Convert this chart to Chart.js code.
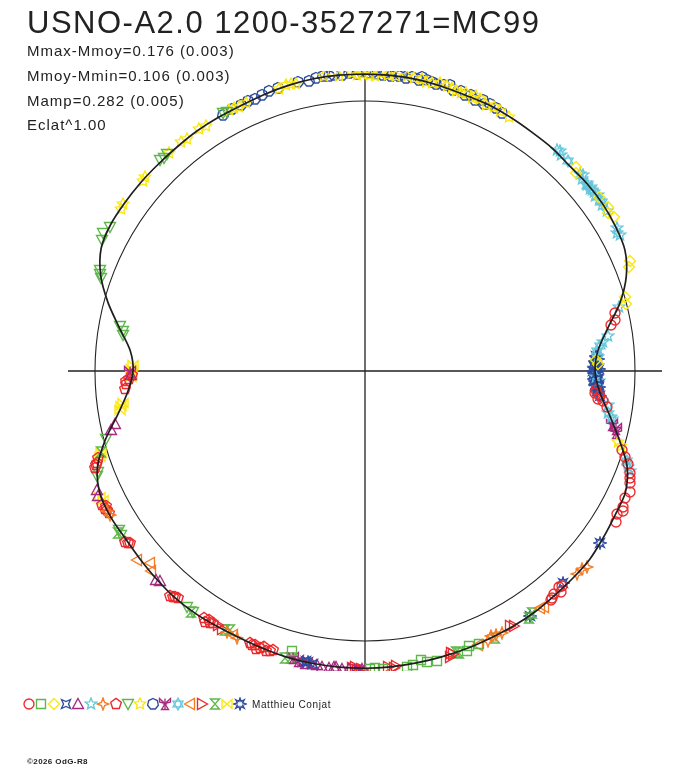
<!DOCTYPE html>
<html><head><meta charset="utf-8">
<script src="https://cdn.jsdelivr.net/npm/chart.js@4.4.1/dist/chart.umd.min.js"></script>
<style>
html,body{margin:0;padding:0;background:#fff;width:688px;height:768px;overflow:hidden;font-family:"Liberation Sans",Arial,sans-serif;color:#222}
#wrap{position:relative;width:688px;height:768px}
#c{position:absolute;left:0;top:0}
.t{position:absolute;white-space:nowrap;line-height:1}
</style></head><body>
<div id="wrap">
<canvas id="c" width="688" height="768"></canvas>
<div class="t" style="left:27px;top:7px;font-size:31px;letter-spacing:1.5px">USNO-A2.0 1200-3527271=MC99</div>
<div class="t" style="left:27px;top:43px;font-size:15px;letter-spacing:1px">Mmax-Mmoy=0.176 (0.003)</div>
<div class="t" style="left:27px;top:68px;font-size:15px;letter-spacing:1px">Mmoy-Mmin=0.106 (0.003)</div>
<div class="t" style="left:27px;top:93px;font-size:15px;letter-spacing:1px">Mamp=0.282 (0.005)</div>
<div class="t" style="left:27px;top:117px;font-size:15px;letter-spacing:1px">Eclat^1.00</div>
<div class="t" style="left:252px;top:700px;font-size:10px;letter-spacing:0.6px">Matthieu Conjat</div>
<div class="t" style="left:27px;top:758px;font-size:8px;letter-spacing:0.4px;font-weight:bold">©2026 OdG-R8</div>
</div>
<script>
// Phase in degrees (phase x 360, clockwise from top), radius with mean level = 100
const curvePhase = [0,5,10,15,20,25,30,35,40,45,50,55,60,65,70,75,80,85,90,95,100,105,110,115,120,125,130,135,140,145,150,155,160,165,170,175,180,185,190,195,200,205,210,215,220,225,230,235,240,245,250,255,260,265,270,275,280,285,290,295,300,305,310,315,320,325,330,335,340,345,350,355,360];
const curveRadius = [110,109.9,109.7,109.2,108.7,108.7,108.3,107.9,107.8,107.3,107.6,107.6,107.1,106.2,103,97.8,91.3,86.6,85.2,87.2,91.8,97.4,103.3,106.4,106.9,107.7,108.6,108.7,108.8,109.2,109.3,109.3,109.5,109.6,109.8,110,110.1,110.1,110,109.9,109.5,109.2,109.3,109.6,109.6,109.1,108.6,108.3,108.6,108.2,105.5,99.7,93,88.2,85.9,87.3,92.4,98.6,104.2,107.8,108.7,108.6,108.5,108.3,108.3,108.5,108.5,108.5,109,109.5,109.9,110,110];
const meanRadius = 100;

const redCircles = [[77,95],[78.5,94.5],[79.5,92.8],[94.7,86],[95.5,85.7],[96,87.5],[96.8,86.9],[97.3,88.8],[98.5,90.5],[107,99.5],[108.2,101.4],[109.5,103.5],[111,105],[112,106],[113,106.6],[114.5,107.8],[116,107.2],[117.7,108],[118.5,108.6],[119.5,107.4],[121,108.3],[137.5,108.2],[138,107.6],[138.5,109.5],[139.8,108.3],[140.5,108.9],[141,109.3]];
const greenSquares = [[157.4,109.5],[159.4,109],[160,110.2],[166,110.6],[168,110.1],[169,108.9],[170.8,110.2],[172,110.7],[176.5,110.5],[178,109.9],[179,110.5],[194.7,107.2]];
const yellowDiamonds = [[46,108.6],[46.8,107.3],[53.4,108],[56,108.6],[57,107.2],[58.3,108.3],[67.5,106.3],[68.5,105.2],[74,100.1],[75.5,99.8],[87.3,85.6],[88.2,86.4]];
const blueConcaveStars = [[89,85.1],[90.5,85.9],[92,86.4],[93.5,86.9],[190,110.3],[191.5,109.6]];
const purpleTriangles = [[258,94.5],[257,96.5],[246.1,108.7],[245,109.2],[225.1,109.5],[224.3,108.8],[191.3,110.6],[190.3,110.2],[189.3,110.4],[188.3,110.8],[187,110.7],[186,110.1],[185.5,110.2],[184.5,110.6],[183,110.5],[180.5,110.3],[269,86.6]];
const cyanStars = [[40.9,108.4],[41.5,108.9],[42.3,108.1],[47.5,108],[48,108.4],[48.5,107.4],[49.7,107.9],[50,107.1],[50.8,108],[51,107.2],[51.5,107.5],[52,107.7],[52.8,106.9],[53,108.1],[53.8,107.5],[55,107.1],[56.5,107.4],[60.5,107.3],[61.3,106.3],[62,106.9],[75.8,97.2],[81.8,90.8],[83,88.7],[86.5,86.3],[91.5,85.4],[92.5,86.8],[98,90.7],[99.9,91.5],[100.5,92.8],[110,103.6],[110.8,104.8]];
const orangeStars = [[131.4,109.5],[132.5,108.8],[133.7,108.6],[152.5,109.5],[153.5,109.1],[154.5,108.7],[155.5,109.7],[240.6,108.4],[241.5,108.9],[207.8,109.2],[205.6,109.6]];
const redPentagons = [[251,105],[250.8,105.4],[250.2,106.2],[252,104],[241,108.3],[241.7,108.6],[242,108.9],[242.5,108.1],[243,109.3],[233.7,107.9],[234,108.4],[234.5,109.2],[220,109.3],[220.3,109.7],[219.5,108.9],[221,110.3],[211,109.1],[211.6,109.7],[212,108.9],[212.5,110.3],[213.1,109.3],[203,109.3],[202.4,109.8],[201.8,109.3],[201.5,110.5],[200.8,109.9],[200.2,108.8],[199.4,110],[198.8,109.4],[198.2,108.8],[266.9,88.5],[265.8,89.3],[267.5,88.6],[268,87.4],[269,86.3]];
const greenDownTriangles = [[331.2,108.9],[332,108.5],[315.8,109],[316.6,108.4],[317.5,108.8],[299.5,108.5],[297.8,109.5],[296.5,108.7],[290.9,105],[290.2,104.4],[289.5,103.6],[280.3,92.2],[279.4,91],[278.5,90.5],[255.3,99],[249.2,105.8],[248.5,106.6],[237.2,108.5],[236,108.8],[217,109.3],[215.5,109.7]];
const yellowStars = [[303.5,108.5],[304.5,108.9],[310.5,108.2],[311.5,108.7],[318,108.4],[321.2,108.6],[322.5,108.2],[325.5,108.8],[327,108.3],[332.5,108.9],[333.5,109],[334.5,108.5],[336,108.7],[343,109.4],[344.5,109.8],[345.5,109.8],[346.5,109.3],[352,110.3],[355,109.8],[357.5,110.3],[358.5,109.6],[359.5,110],[1,109.8],[2,109.5],[3,110.4],[4.5,110.1],[6,109.8],[8,110.5],[9.5,110.2],[11,110],[12,109.5],[13,109.5],[14.5,110.3],[16,110],[17,109.6],[18,109.1],[19,108.9],[20,109.4],[21.5,108.5],[22,109.7],[23,109.3],[24.5,108.4],[26,108.9],[27.5,108.4],[29.5,108.1],[105.6,97.4],[106.3,98.6]];
const blueOctagons = [[331,108.6],[333,108.9],[335,108.5],[336.5,109],[338,108.8],[339.5,109.3],[341,109.5],[343,109.6],[347,109.8],[349,109.4],[350.5,110.1],[352,110.5],[353,109.9],[354,110.4],[355.5,110],[357,110.6],[358.5,110.2],[359.5,110.7],[0.5,110.5],[1.5,110.7],[2,110],[3.5,109.9],[4,110.8],[5,109.6],[6.5,110.1],[7,110.6],[8,109.5],[9,110.2],[10.5,109.6],[11,110.8],[12,110.3],[13,109.8],[14,109.4],[15.5,109.9],[16.5,110.4],[17.5,109],[19,109.7],[20,108.8],[21,109.3],[22,108.4],[23.5,109.6],[24,108.1],[25,109.2],[26.5,108.7],[28,108.3]];
const purpleTridents = [[102.3,93.8],[103,95.3],[103.8,95.9],[193,110.1],[194,109.5],[181,110.8],[269.8,86.9]];
const cyanHexagrams = [[44,108],[50.3,107],[54.5,107.6],[84,87.6],[85,86.2],[109,102.6],[101.2,93.5]];
const orangeLeftTriangles = [[143.5,109.2],[142.8,109.9],[157.5,109.8],[230.4,109.8],[228.2,106.8],[227,108.5],[206.5,109.3],[201,109.6]];
const redRightTriangles = [[149.7,109.5],[150.5,108.7],[162.8,109.7],[163,109.3],[163.5,110.3],[174,109.9],[174.5,110.5],[175.5,109.8],[180.3,110.9],[180.8,110.2],[181.2,111.2],[181.6,110.7],[182,109.8],[182.5,110.2],[209,109.4],[210,108.8]];
const greenHourglasses = [[145.5,108.9],[146.5,109.8],[154,110],[161.5,110.3],[162,109.3],[194.4,109.8],[195.5,110.5],[207.5,108.2],[208.3,109],[215.8,109.9],[236.8,109.4],[253,102.3]];
const yellowBowties = [[261,91.9],[261.8,91.2],[262.5,90.4],[252.1,103.2],[252.8,102.5],[243.8,108],[244.5,108.6],[268.5,86.6],[269.5,86.2],[270.5,86.6],[271.5,86]];
const blueEightStars = [[86.2,85.9],[87,86.3],[87.5,85.3],[88.5,85.8],[89,84.8],[89.5,86.6],[90,84.6],[90.5,84.9],[91,86],[91.5,85.7],[92,84.9],[92.5,85.1],[93,86.1],[93.5,85.2],[94,87],[94.5,86.2],[95,86.4],[96,87.6],[126.3,107.9],[137,107.6],[146,109.6],[191,109.7],[192,110.2]];

const RED='#ec2a2e', GREEN='#5db749', YELLOW='#fbe70c', BLUE='#2f4d9f', PURPLE='#a62a7e', CYAN='#67c7dc', ORANGE='#f57c27';

const seriesDefs = [
  {data:redCircles, color:RED, shape:'circle'},
  {data:greenSquares, color:GREEN, shape:'square'},
  {data:yellowDiamonds, color:YELLOW, shape:'diamond'},
  {data:blueConcaveStars, color:BLUE, shape:'concave'},
  {data:purpleTriangles, color:PURPLE, shape:'triUp'},
  {data:cyanStars, color:CYAN, shape:'star5'},
  {data:orangeStars, color:ORANGE, shape:'star4'},
  {data:redPentagons, color:RED, shape:'pentagon'},
  {data:greenDownTriangles, color:GREEN, shape:'triDown'},
  {data:yellowStars, color:YELLOW, shape:'star5b'},
  {data:blueOctagons, color:BLUE, shape:'heptagon'},
  {data:purpleTridents, color:PURPLE, shape:'trident'},
  {data:cyanHexagrams, color:CYAN, shape:'hexagram'},
  {data:orangeLeftTriangles, color:ORANGE, shape:'triLeft'},
  {data:redRightTriangles, color:RED, shape:'triRight'},
  {data:greenHourglasses, color:GREEN, shape:'hourglass'},
  {data:yellowBowties, color:YELLOW, shape:'bowtie'},
  {data:blueEightStars, color:BLUE, shape:'star8'}
];

function starPts(n, ro, ri, start){
  const p=[];
  for(let i=0;i<2*n;i++){const a=start+i*Math.PI/n;const r=i%2?ri:ro;p.push([r*Math.cos(a),r*Math.sin(a)]);}
  return p;
}
function polyPts(n, r, start){
  const p=[];
  for(let i=0;i<n;i++){const a=start+i*2*Math.PI/n;p.push([r*Math.cos(a),r*Math.sin(a)]);}
  return p;
}
const UP=-Math.PI/2;
const shapePolys = {
  square: [[[-4.5,-4.5],[4.5,-4.5],[4.5,4.5],[-4.5,4.5]]],
  diamond: [[[0,-5.5],[5.5,0],[0,5.5],[-5.5,0]]],
  concave: [[[-4.5,-4.5],[0,-2.5],[4.5,-4.5],[2.5,0],[4.5,4.5],[0,2.5],[-4.5,4.5],[-2.5,0]]],
  triUp: [[[0,-5.5],[5.5,4.5],[-5.5,4.5]]],
  triDown: [[[-5.5,-4.5],[5.5,-4.5],[0,5.5]]],
  triLeft: [[[-5.5,0],[4.5,-5.5],[4.5,5.5]]],
  triRight: [[[5.5,0],[-4.5,-5.5],[-4.5,5.5]]],
  star5: [starPts(5,6,2.6,UP)],
  star5b: [starPts(5,6,3,UP)],
  star4: [[[0,-6],[1.6,-1.6],[6,0],[1.6,1.6],[0,6],[-1.6,1.6],[-6,0],[-1.6,-1.6]]],
  pentagon: [polyPts(5,5.6,UP)],
  heptagon: [polyPts(7,5.5,UP)],
  hexagram: [polyPts(3,5.8,UP), polyPts(3,5.8,-UP)],
  trident: [[[0,-0.5],[-5.5,-5.5],[-5.5,-2]],[[0,-0.5],[5.5,-5.5],[5.5,-2]],[[0,0],[-3.5,5.5],[3.5,5.5]]],
  hourglass: [[[-4.5,-5],[4.5,-5],[-4.5,5],[4.5,5]]],
  bowtie: [[[-5,-4.5],[5,4.5],[5,-4.5],[-5,4.5]]],
  star8: [starPts(8,6,2.8,UP)]
};
function makeMarker(shape, color){
  const c=document.createElement('canvas'); c.width=14; c.height=14;
  const g=c.getContext('2d'); g.strokeStyle=color; g.lineWidth=1.35; g.lineJoin='miter'; g.translate(7,7);
  if(shape==='circle'){g.beginPath();g.arc(0,0,5,0,2*Math.PI);g.stroke();}
  else{
    shapePolys[shape].forEach(poly=>{g.beginPath();poly.forEach((p,i)=>i?g.lineTo(p[0],p[1]):g.moveTo(p[0],p[1]));g.closePath();g.stroke();});
    if(shape==='trident'){g.beginPath();g.moveTo(0,-5.5);g.lineTo(0,5.5);g.stroke();}
  }
  return c;
}
function toXY(deg, r){const a=deg*Math.PI/180;return {x:r*Math.sin(a), y:r*Math.cos(a)};}

const markerImgs = seriesDefs.map(s=>makeMarker(s.shape, s.color));

const datasets = [{
  label:'curve',
  data: curvePhase.map((p,i)=>toXY(p, curveRadius[i])),
  showLine:true, borderColor:'#1e1e1e', borderWidth:1.7, pointRadius:0, tension:0.3, fill:false
}];
seriesDefs.forEach((s,i)=>{
  datasets.push({label:'s'+i, data:s.data.map(d=>toXY(d[0],d[1])), showLine:false, pointStyle:markerImgs[i], pointRadius:6, borderColor:s.color, backgroundColor:'transparent'});
});

const R = 300/2.7;
const framePlugin = {
  id:'frame',
  beforeDatasetsDraw(chart){
    const {ctx, scales:{x,y}} = chart;
    const cx=x.getPixelForValue(0), cy=y.getPixelForValue(0);
    ctx.save();
    ctx.strokeStyle='#222'; ctx.lineWidth=1.3;
    ctx.beginPath();
    ctx.moveTo(x.getPixelForValue(-110), cy); ctx.lineTo(x.getPixelForValue(110), cy);
    ctx.moveTo(cx, y.getPixelForValue(110)); ctx.lineTo(cx, y.getPixelForValue(-110));
    ctx.stroke();
    ctx.lineWidth=1.1;
    ctx.beginPath();
    ctx.arc(cx, cy, x.getPixelForValue(meanRadius)-cx, 0, 2*Math.PI);
    ctx.stroke();
    ctx.restore();
    ctx.imageSmoothingEnabled=false;
  },
  afterDraw(chart){
    const ctx=chart.ctx;
    ctx.imageSmoothingEnabled=false;
    markerImgs.forEach((img,i)=>{ctx.drawImage(img, Math.round(28.7+i*12.4-7), Math.round(704.3-7));});
  }
};

new Chart(document.getElementById('c'), {
  type:'scatter',
  data:{datasets},
  options:{
    responsive:false, animation:false,
    layout:{padding:{left:65,right:23,top:71,bottom:97}},
    plugins:{legend:{display:false}, tooltip:{enabled:false}},
    scales:{
      x:{type:'linear', min:-R, max:R, display:false},
      y:{type:'linear', min:-R, max:R, display:false}
    }
  },
  plugins:[framePlugin]
});
</script>
</body></html>
